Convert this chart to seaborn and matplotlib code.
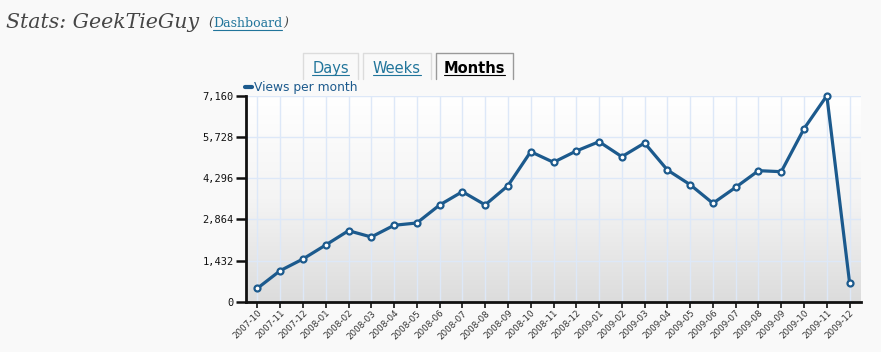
import numpy as np
import pandas as pd
import matplotlib
matplotlib.use("Agg")
import matplotlib.pyplot as plt
from matplotlib.lines import Line2D
import seaborn as sns

# --- data ---
months = ['2007-10', '2007-11', '2007-12', '2008-01', '2008-02', '2008-03',
          '2008-04', '2008-05', '2008-06', '2008-07', '2008-08', '2008-09',
          '2008-10', '2008-11', '2008-12', '2009-01', '2009-02', '2009-03',
          '2009-04', '2009-05', '2009-06', '2009-07', '2009-08', '2009-09',
          '2009-10', '2009-11', '2009-12']
views = [466, 1078, 1484, 1971, 2468, 2249, 2656, 2736, 3361, 3824, 3365, 4032,
         5214, 4845, 5238, 5562, 5040, 5516, 4578, 4067, 3420, 3977, 4554, 4519,
         6014, 7160, 650]
yticks = [0, 1432, 2864, 4296, 5728, 7160]
tabs = ['Days', 'Weeks', 'Months']

df = pd.DataFrame({'month': months, 'views': views})

W, H = 881, 352
BLUE = '#1c5a8d'
LINK = '#21759b'

sns.set_style('white')
plt.rcParams['font.family'] = ['DejaVu Sans']

fig = plt.figure(figsize=(W / 100, H / 100), dpi=100)
fig.patch.set_facecolor('#f9f9f9')


def fx(px):
    return px / W


def fy(py):
    return 1 - py / H


ax = fig.add_axes([fx(246), fy(301.7), fx(861) - fx(246), fy(95.7) - fy(301.7)])

# gradient background of the plot area
grad = np.linspace(0, 1, 256).reshape(-1, 1)
gcmap = matplotlib.colors.LinearSegmentedColormap.from_list('bg', ['#ffffff', '#f4f4f4', '#dcdcdc'])
ax.imshow(grad, extent=[0, 1, 0, 1], transform=ax.transAxes, aspect='auto',
          cmap=gcmap, zorder=0, origin='upper')

sns.lineplot(data=df, x='month', y='views', ax=ax, color=BLUE, lw=2.3,
             marker='o', markersize=4.3, markerfacecolor='white',
             markeredgecolor=BLUE, markeredgewidth=1.6,
             label='Views per month', zorder=3, sort=False)
for ln in ax.lines:
    ln.set_clip_on(False)

ax.set_xlim(-0.5, len(months) - 0.5)
ax.set_ylim(0, 7160)
ax.set_yticks(yticks)
ax.set_yticklabels([f'{v:,}' for v in yticks], family='DejaVu Sans Mono',
                   fontsize=7.5, color='#111111')
ax.set_xticks(range(len(months)))
ax.set_xticklabels(months, rotation=45, ha='right', rotation_mode='anchor',
                   fontsize=6.3, color='#333333')
ax.set_xlabel('')
ax.set_ylabel('')

ax.grid(True, color='#dde8f8', lw=1, zorder=1)
ax.set_axisbelow(True)
for s in ['top', 'right']:
    ax.spines[s].set_visible(False)
for s in ['left', 'bottom']:
    ax.spines[s].set_color('#111111')
    ax.spines[s].set_linewidth(2)
    ax.spines[s].set_zorder(4)
ax.tick_params(axis='y', length=7, width=1.8, color='#111111', pad=2, left=True)
ax.tick_params(axis='x', length=4, width=1.2, color='#111111', pad=1, bottom=True)

leg = ax.legend(loc='lower left', bbox_to_anchor=(-0.002, 1.008), frameon=False,
                handlelength=0.6, handletextpad=0.15, borderaxespad=0,
                borderpad=0, fontsize=8.8)
for t in leg.get_texts():
    t.set_color(BLUE)
for h in leg.legend_handles:
    h.set_marker('')
    h.set_linewidth(3)

# --- header ---
title = fig.text(fx(6), fy(28), 'Stats: GeekTieGuy', family='DejaVu Serif',
                 style='italic', fontsize=14.8, color='#464646', va='baseline')
fig.text(fx(208), fy(27), '(', family='DejaVu Serif', style='italic',
         fontsize=9, color='#464646', va='baseline')
dash = fig.text(fx(213), fy(27), 'Dashboard', family='DejaVu Serif',
                fontsize=9, color=LINK, va='baseline')
fig.text(fx(283), fy(27), ')', family='DejaVu Serif', style='italic',
         fontsize=9, color='#464646', va='baseline')

# --- tabs ---
tab_box = [(303, 358), (363, 431), (436, 513)]
renderer = fig.canvas.get_renderer()
for (x0, x1), name in zip(tab_box, tabs):
    active = name == 'Months'
    ec = '#9a9a9a' if active else '#dcdcdc'
    fig.add_artist(Line2D([fx(x0), fx(x0), fx(x1), fx(x1)],
                          [fy(79), fy(53), fy(53), fy(79)],
                          transform=fig.transFigure, color=ec, lw=1))
    t = fig.text(fx((x0 + x1) / 2), fy(73), name, ha='center', va='baseline',
                 fontsize=10.5, color='black' if active else LINK,
                 fontweight='bold' if active else 'normal')
    bb = t.get_window_extent(renderer)
    fig.add_artist(Line2D([bb.x0 / W, bb.x1 / W], [fy(75), fy(75)],
                          transform=fig.transFigure,
                          color='black' if active else LINK, lw=0.8))

bb = dash.get_window_extent(renderer)
fig.add_artist(Line2D([bb.x0 / W, bb.x1 / W], [fy(29.5), fy(29.5)],
                      transform=fig.transFigure, color=LINK, lw=0.8))

fig.savefig('out.png', dpi=100, facecolor=fig.get_facecolor())
